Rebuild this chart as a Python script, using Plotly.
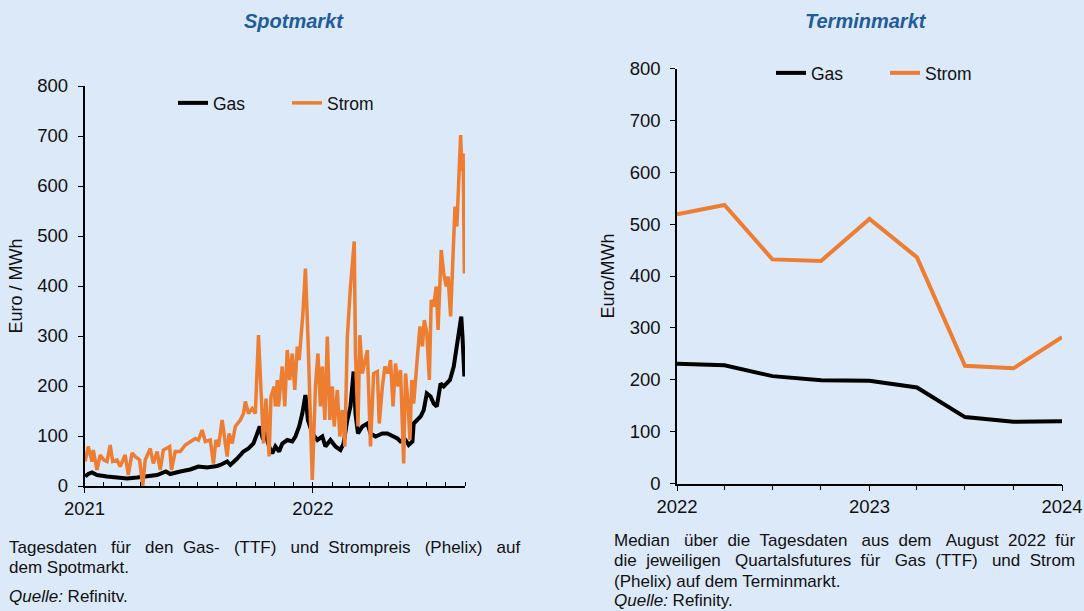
import plotly.graph_objects as go

# ---------------- data: Spotmarkt (daily) ----------------
spot_gas_dates = [
    "2021-01-02", "2021-01-07", "2021-01-13", "2021-01-21", "2021-02-06", "2021-02-22",
    "2021-03-10", "2021-03-26", "2021-04-11", "2021-04-27", "2021-05-11", "2021-05-18",
    "2021-06-03", "2021-06-19", "2021-07-02", "2021-07-16", "2021-08-01", "2021-08-06",
    "2021-08-17", "2021-08-22", "2021-09-02", "2021-09-12", "2021-09-20", "2021-09-28",
    "2021-10-04", "2021-10-08", "2021-10-12", "2021-10-17", "2021-10-23", "2021-10-28",
    "2021-11-02", "2021-11-08", "2021-11-13", "2021-11-21", "2021-11-29", "2021-12-04",
    "2021-12-10", "2021-12-15", "2021-12-20", "2021-12-24", "2021-12-31", "2022-01-08",
    "2022-01-16", "2022-01-21", "2022-01-29", "2022-02-06", "2022-02-14", "2022-02-19",
    "2022-02-25", "2022-03-02", "2022-03-07", "2022-03-10", "2022-03-14", "2022-03-21",
    "2022-03-29", "2022-04-03", "2022-04-11", "2022-04-22", "2022-04-30", "2022-05-10",
    "2022-05-16", "2022-05-21", "2022-05-29", "2022-06-03", "2022-06-09", "2022-06-11",
    "2022-06-17", "2022-06-22", "2022-06-27", "2022-07-02", "2022-07-08", "2022-07-13",
    "2022-07-18", "2022-07-24", "2022-07-29", "2022-08-03", "2022-08-08", "2022-08-14",
    "2022-08-19", "2022-08-26", "2022-08-28", "2022-08-30", "2022-08-31",
]
spot_gas_values = [
    19, 24, 27, 22, 19, 17,
    15, 17, 19, 22, 29, 24,
    29, 33, 39, 37, 40, 42,
    49, 42, 55, 69, 75, 85,
    105, 119, 99, 105, 79, 65,
    79, 69, 85, 92, 89, 99,
    119, 145, 182, 132, 105, 92,
    99, 79, 92, 79, 72, 85,
    132, 159, 229, 145, 105, 119,
    125, 105, 99, 105, 105, 99,
    95, 89, 92, 82, 89, 125,
    132, 139, 152, 185, 179, 165,
    159, 205, 199, 205, 212, 239,
    279, 339, 299, 252, 219,
]

spot_strom_dates = [
    "2021-01-02", "2021-01-07", "2021-01-13", "2021-01-15", "2021-01-21", "2021-01-26",
    "2021-02-01", "2021-02-06", "2021-02-11", "2021-02-15", "2021-02-22", "2021-02-27",
    "2021-03-07", "2021-03-12", "2021-03-18", "2021-03-23", "2021-03-30", "2021-04-04",
    "2021-04-08", "2021-04-16", "2021-04-21", "2021-04-27", "2021-05-02", "2021-05-07",
    "2021-05-17", "2021-05-20", "2021-05-26", "2021-06-03", "2021-06-11", "2021-06-19",
    "2021-06-27", "2021-07-02", "2021-07-08", "2021-07-13", "2021-07-21", "2021-07-26",
    "2021-07-30", "2021-08-03", "2021-08-09", "2021-08-14", "2021-08-17", "2021-08-20",
    "2021-08-25", "2021-08-30", "2021-09-07", "2021-09-12", "2021-09-15", "2021-09-20",
    "2021-09-26", "2021-10-01", "2021-10-06", "2021-10-10", "2021-10-14", "2021-10-18",
    "2021-10-23", "2021-10-26", "2021-10-31", "2021-11-02", "2021-11-05", "2021-11-07",
    "2021-11-13", "2021-11-17", "2021-11-21", "2021-11-25", "2021-11-29", "2021-12-03",
    "2021-12-07", "2021-12-10", "2021-12-13", "2021-12-16", "2021-12-20", "2021-12-24",
    "2021-12-31", "2022-01-05", "2022-01-09", "2022-01-13", "2022-01-16", "2022-01-20",
    "2022-01-24", "2022-01-28", "2022-02-01", "2022-02-04", "2022-02-09", "2022-02-13",
    "2022-02-17", "2022-02-21", "2022-02-25", "2022-03-02", "2022-03-08", "2022-03-10",
    "2022-03-14", "2022-03-17", "2022-03-21", "2022-03-25", "2022-03-29", "2022-04-03",
    "2022-04-08", "2022-04-14", "2022-04-17", "2022-04-22", "2022-04-26", "2022-05-01",
    "2022-05-05", "2022-05-09", "2022-05-13", "2022-05-17", "2022-05-21", "2022-05-26",
    "2022-05-29", "2022-06-02", "2022-06-05", "2022-06-08", "2022-06-11", "2022-06-17",
    "2022-06-21", "2022-06-25", "2022-06-28", "2022-07-02", "2022-07-06", "2022-07-09",
    "2022-07-13", "2022-07-17", "2022-07-20", "2022-07-25", "2022-07-29", "2022-08-02",
    "2022-08-05", "2022-08-09", "2022-08-12", "2022-08-16", "2022-08-19", "2022-08-22",
    "2022-08-25", "2022-08-27", "2022-08-29", "2022-08-31",
]
spot_strom_values = [
    49, 79, 49, 72, 32, 62,
    52, 49, 82, 49, 52, 39,
    62, 22, 66, 59, 52, 0,
    52, 75, 45, 69, 32, 72,
    79, 32, 69, 69, 82, 89,
    95, 92, 112, 89, 92, 45,
    92, 79, 132, 85, 59, 105,
    85, 119, 132, 145, 169, 145,
    155, 145, 302, 192, 85, 175,
    59, 179, 199, 159, 212, 159,
    239, 159, 272, 212, 265, 192,
    279, 252, 292, 345, 435, 299,
    12, 199, 265, 159, 239, 132,
    299, 132, 199, 119, 192, 99,
    152, 79, 299, 399, 489, 265,
    119, 302, 225, 245, 272, 79,
    225, 229, 125, 199, 239, 225,
    252, 159, 245, 199, 232, 45,
    225, 165, 92, 212, 165, 259,
    319, 279, 332, 305, 212, 372,
    359, 399, 312, 472, 425, 399,
    419, 339, 432, 559, 519, 619,
    702, 630, 665, 425,
]

# ---------------- data: Terminmarkt (quarterly futures) ----------------
term_dates = ["2022-01-01", "2022-04-01", "2022-07-01", "2022-10-01", "2023-01-01",
              "2023-04-01", "2023-07-01", "2023-10-01", "2024-01-01"]
term_gas = [231, 228, 207, 199, 198, 185, 128, 119, 120]
term_strom = [519, 537, 432, 429, 510, 436, 227, 222, 282]

series_names = ["Gas", "Strom"]
y_ticks = [0, 100, 200, 300, 400, 500, 600, 700, 800]

# note texts (words of justified lines)
left_note_line1 = ["Tagesdaten", "für", "den", "Gas-", "(TTF)", "und", "Strompreis", "(Phelix)", "auf"]
left_note_line2 = "dem Spotmarkt."
left_source = "<i>Quelle:</i> Refinitv."
right_note_line1 = ["Median", "über", "die", "Tagesdaten", "aus", "dem", "August", "2022", "für"]
right_note_line2 = ["die", "jeweiligen", "Quartalsfutures", "für", "Gas", "(TTF)", "und", "Strom"]
right_note_line3 = "(Phelix) auf dem Terminmarkt."
right_source = "<i>Quelle:</i> Refinity."

BG = "#dce9f8"
ORANGE = "#ed7d31"
BLACK = "#000000"
TITLE_BLUE = "#1f5c99"
TXT = "#111111"
FONT = "Liberation Sans, Arial, sans-serif"
W, H = 1084, 611
NB = "\u00a0"


def justify(words, extra):
    """join words; extra[i] = number of additional no-break spaces in gap i (justified look)"""
    out = words[0]
    for w, e in zip(words[1:], extra):
        out += " " + NB * e + w
    return out


fig = go.Figure()
fig.add_trace(go.Scatter(x=spot_gas_dates, y=spot_gas_values, name=series_names[0], mode="lines",
                         line=dict(color=BLACK, width=4), xaxis="x", yaxis="y", legend="legend"))
fig.add_trace(go.Scatter(x=spot_strom_dates, y=spot_strom_values, name=series_names[1], mode="lines",
                         line=dict(color=ORANGE, width=3.5), xaxis="x", yaxis="y", legend="legend"))
fig.add_trace(go.Scatter(x=term_dates, y=term_gas, name=series_names[0], mode="lines",
                         line=dict(color=BLACK, width=4), xaxis="x2", yaxis="y2", legend="legend2"))
fig.add_trace(go.Scatter(x=term_dates, y=term_strom, name=series_names[1], mode="lines",
                         line=dict(color=ORANGE, width=4), xaxis="x2", yaxis="y2", legend="legend2"))

axis_common = dict(showgrid=False, zeroline=False, showline=True, linecolor=BLACK, linewidth=1.5,
                   tickcolor=BLACK, tickfont=dict(size=18.5, color=TXT, family=FONT))


def px_x(p):
    return p / W


def px_y(p):
    return 1 - p / H


fig.update_layout(
    width=W, height=H,
    margin=dict(l=0, r=0, t=0, b=0, pad=0, autoexpand=False),
    paper_bgcolor=BG, plot_bgcolor=BG,
    font=dict(family=FONT, size=17, color=TXT),
    xaxis=dict(axis_common, type="date", domain=[px_x(84.5), px_x(465)], anchor="y",
               range=["2021-01-01", "2022-09-01"], dtick="M12", tick0="2021-01-01", tickformat="%Y",
               ticks="outside", ticklen=5,
               minor=dict(dtick="M1", tick0="2021-01-01", ticks="inside", ticklen=4, tickcolor=BLACK)),
    yaxis=dict(axis_common, domain=[px_y(486), px_y(86)], anchor="x", range=[0, 800],
               tickvals=y_ticks, ticks="outside", ticklen=5, ticklabelstandoff=6,
               title=dict(text="Euro / MWh", font=dict(size=18), standoff=10)),
    xaxis2=dict(axis_common, type="date", domain=[px_x(677), px_x(1062)], anchor="y2",
                range=["2022-01-01", "2024-01-01"], dtick="M12", tick0="2022-01-01", tickformat="%Y",
                ticks="outside", ticklen=6,
                minor=dict(dtick="M3", tick0="2022-01-01", ticks="outside", ticklen=5, tickcolor=BLACK)),
    yaxis2=dict(axis_common, domain=[px_y(483.5), px_y(68.5)], anchor="x2", range=[0, 800],
                tickvals=y_ticks, ticks="outside", ticklen=5, ticklabelstandoff=6,
                title=dict(text="Euro/MWh", font=dict(size=18), standoff=10)),
    legend=dict(orientation="h", x=px_x(173), y=px_y(103), xanchor="left", yanchor="middle",
                bgcolor="rgba(0,0,0,0)", font=dict(size=17.5), entrywidth=69),
    legend2=dict(orientation="h", x=px_x(771), y=px_y(73), xanchor="left", yanchor="middle",
                 bgcolor="rgba(0,0,0,0)", font=dict(size=17.5), entrywidth=69),
    showlegend=True,
)

note_font = dict(size=17, color=TXT)
annotations = [
    dict(text="<b><i>Spotmarkt</i></b>", x=px_x(294), y=px_y(21), xanchor="center",
         font=dict(size=20, color=TITLE_BLUE)),
    dict(text="<b><i>Terminmarkt</i></b>", x=px_x(866), y=px_y(21), xanchor="center",
         font=dict(size=20, color=TITLE_BLUE)),
    dict(text=justify(left_note_line1, [2, 2, 1, 2, 2, 1, 2, 2]), x=px_x(7), y=px_y(547), font=note_font),
    dict(text=left_note_line2, x=px_x(7), y=px_y(567), font=note_font),
    dict(text=left_source, x=px_x(7), y=px_y(596), font=note_font),
    dict(text=justify(right_note_line1, [2, 1, 1, 2, 1, 2, 1, 1]), x=px_x(612), y=px_y(540), font=note_font),
    dict(text=justify(right_note_line2, [1, 2, 1, 2, 1, 2, 1]), x=px_x(612), y=px_y(560.5), font=note_font),
    dict(text=right_note_line3, x=px_x(612), y=px_y(581), font=note_font),
    dict(text=right_source, x=px_x(612), y=px_y(600), font=note_font),
]
for a in annotations:
    a.update(xref="paper", yref="paper", showarrow=False, yanchor="middle")
    a.setdefault("xanchor", "left")
fig.update_layout(annotations=annotations)

fig.write_html("out.html", config={"displayModeBar": False},
               post_script="document.body.style.margin='0';document.body.style.overflow='hidden';")
